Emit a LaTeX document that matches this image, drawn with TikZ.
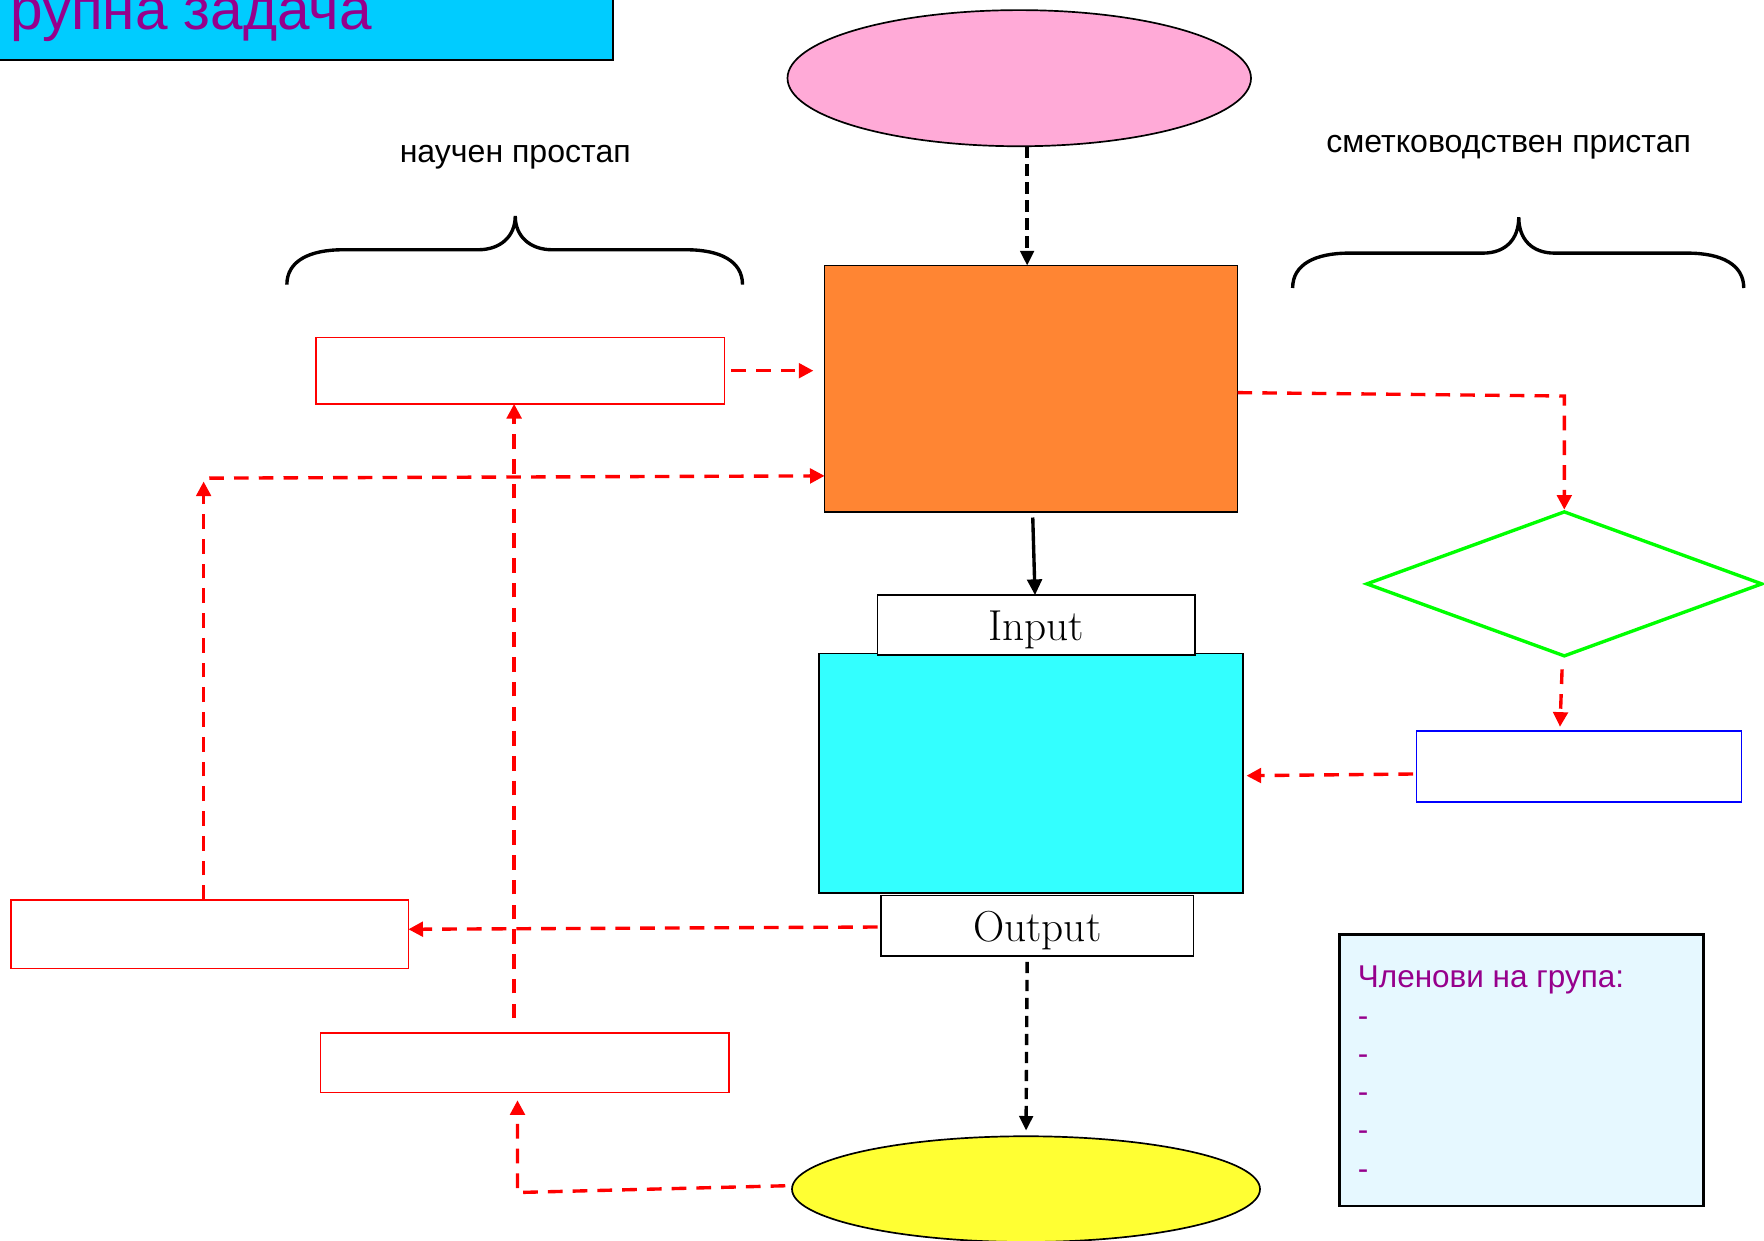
\documentclass[tikz,border=0pt]{standalone}
\usepackage{fontspec}
\newfontfamily\arialfont{Liberation Sans}
\usetikzlibrary{shapes.geometric,arrows.meta}
\definecolor{titlecyan}{RGB}{0,204,255}
\definecolor{purp}{RGB}{150,0,140}
\definecolor{pinkc}{RGB}{255,170,215}
\definecolor{orangec}{RGB}{255,133,51}
\definecolor{cyanc}{RGB}{51,255,255}
\definecolor{yellowc}{RGB}{255,255,51}
\definecolor{lightc}{RGB}{230,248,255}
\definecolor{greenc}{RGB}{0,255,0}
\begin{document}
\begin{tikzpicture}[x=1pt,y=-1pt,
  every node/.style={inner sep=0pt, outer sep=0pt},
  box/.style={rectangle, draw=black, line width=1.5pt},
  redbox/.style={rectangle, draw=red, line width=1.5pt, fill=white},
  rarr/.style={draw=red, line width=3pt, dash pattern=on 13pt off 9pt, -{Triangle[length=13pt,width=13pt]}},
  bdash/.style={draw=black, line width=3pt, dash pattern=on 10pt off 6pt, -{Triangle[length=13pt,width=12pt]}},
  barr/.style={draw=black, line width=3pt, -{Triangle[length=14pt,width=13pt]}},
  brace/.style={draw=black, line width=3pt},
  sanslab/.style={font=\arialfont\fontsize{28.5}{34}\selectfont},
  memb/.style={anchor=base west, text=purp, font=\arialfont\fontsize{28}{34}\selectfont},
  serif/.style={font=\fontsize{38.5}{44}\selectfont}]
\useasboundingbox (0,0) rectangle (1568,1103);
\clip (0,0) rectangle (1568,1103);

% title
\node[draw=black, line width=2pt, fill=titlecyan, minimum width=560pt, minimum height=80pt] (titlebox) at (265,13) {};
\node[anchor=base west, text=purp, font=\arialfont\fontsize{52}{60}\selectfont] (titletext) at (9,26) {рупна задача};

% shapes
\node[ellipse, draw=black, line width=1.5pt, fill=pinkc, minimum width=412pt, minimum height=121pt] (pink) at (906,69.5) {};
\node[box, fill=orangec, minimum width=367pt, minimum height=219pt] (orange) at (916.5,345.5) {};
\node[redbox, minimum width=363pt, minimum height=59pt] (r1) at (462.5,329.5) {};
\node[diamond, draw=greenc, line width=3pt, fill=white, minimum width=351pt, minimum height=128pt] (dia) at (1390.5,519) {};
\node[rectangle, draw=blue, line width=1.5pt, fill=white, minimum width=289pt, minimum height=63pt] (blue) at (1403.5,681.5) {};
\node[box, fill=cyanc, minimum width=377pt, minimum height=213pt] (cyan) at (916.5,687.5) {};
\node[box, fill=white, minimum width=282pt, minimum height=53pt, serif] (input) at (921,555.5) {\raisebox{-14pt}[0pt][0pt]{Input}};
\node[box, fill=white, minimum width=278pt, minimum height=54pt, serif] (output) at (922,823) {\raisebox{-14pt}[0pt][0pt]{Output}};
\node[redbox, minimum width=353pt, minimum height=61pt] (l2) at (186.5,830.5) {};
\node[redbox, minimum width=363pt, minimum height=53pt] (b3) at (466.5,944.5) {};
\node[ellipse, draw=black, line width=1.5pt, fill=yellowc, minimum width=416pt, minimum height=94pt] (yellow) at (912,1057) {};
\node[rectangle, draw=black, line width=2.5pt, fill=lightc, minimum width=323pt, minimum height=241pt] (members) at (1352.5,951.5) {};

% labels
\node[sanslab] (lab1) at (458,140) {научен простап};
\node[sanslab] (lab2) at (1341,131) {сметководствен пристап};
\node[memb] (mh) at (1207,878) {Членови на група:};
\foreach \i in {1,...,5} {
  \node[memb] (m\i) at (1207,878+34*\i) {-};
}

% braces
\draw[brace] (255,253) .. controls (255,232) and (275,222) .. (305,222) -- (425,222)
  .. controls (445,222) and (458,210) .. (458,192)
  .. controls (458,210) and (471,222) .. (491,222) -- (610,222)
  .. controls (640,222) and (660,232) .. (660,253);
\draw[brace] (1149,256) .. controls (1149,235) and (1169,225) .. (1199,225) -- (1318,225)
  .. controls (1338,225) and (1350,213) .. (1350,193)
  .. controls (1350,213) and (1362,225) .. (1382,225) -- (1500,225)
  .. controls (1530,225) and (1550,235) .. (1550,256);

% connectors
\coordinate (c1) at (181,428);
\coordinate (c2) at (457,905);
\coordinate (c3) at (460,1060);
\draw[bdash] ([xshift=7pt]pink.south) -- ([xshift=-3.5pt]orange.north);
\draw[rarr, shorten >=10pt] ([xshift=6pt]r1.east) -- (r1.east -| orange.west);
\draw[rarr, shorten >=2pt] ([yshift=-3.5pt]orange.east) -- ([yshift=-6.5pt]orange.east -| dia.north) -- (dia.north);
\draw[rarr, shorten >=4pt] ([xshift=-2pt,yshift=-12pt]dia.south) -- ([xshift=-4pt]dia.south |- blue.north);
\draw[rarr] ([xshift=-3pt,yshift=-6.5pt]blue.west) -- ([xshift=3pt,yshift=-2pt]cyan.east);
\draw[barr] ([xshift=1.5pt,yshift=-5pt]orange.south) -- ([xshift=-1pt]input.north);
\draw[rarr] ([xshift=-3pt,yshift=-1pt]output.west) -- ([yshift=-3pt]output.west -| l2.east);
\draw[rarr] ([xshift=-5.5pt]l2.north) -- (c1);
\draw[rarr] ([xshift=5pt,yshift=3pt]c1) -- ([yshift=5pt]c1 -| orange.west);
\draw[rarr] (c2) -- (c2 |- r1.south);
\draw[rarr, shorten >=7pt] ([xshift=-6pt,yshift=3pt]yellow.west) -- (c3) -- (c3 |- b3.south);
\draw[bdash, shorten >=5pt] ([xshift=-9pt,yshift=-5pt]output.south) -- (yellow.north);
\end{tikzpicture}
\end{document}
